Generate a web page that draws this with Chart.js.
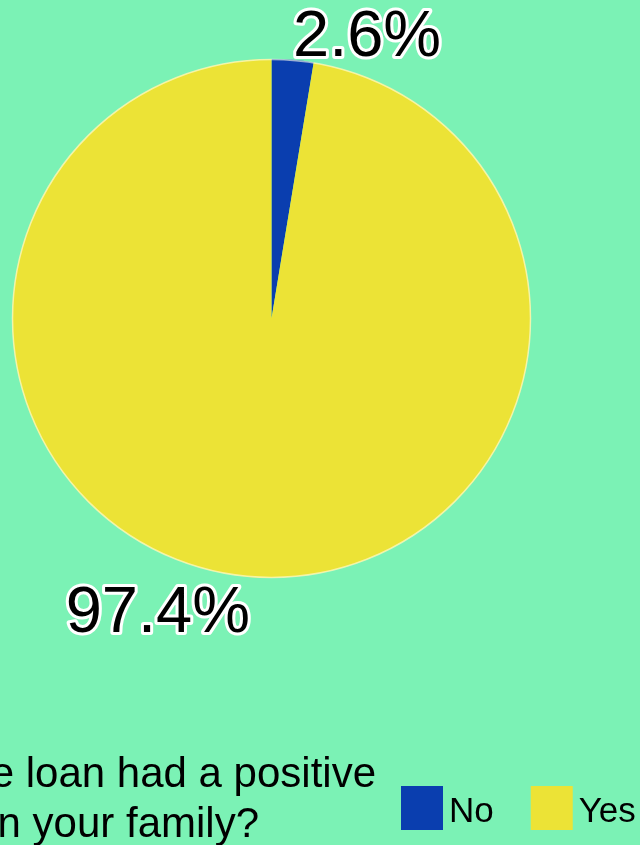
<!DOCTYPE html>
<html>
<head>
<meta charset="utf-8">
<script src="https://cdn.jsdelivr.net/npm/chart.js@4"></script>
<style>
    html, body { margin: 0; padding: 0; background: #7BF2B5; overflow: hidden; }
    canvas { display: block; }
</style>
</head>
<body>
<canvas id="grafico" width="640" height="845"></canvas>
<script>
const categorias = ["No", "Yes"];
const valores = [2.6, 97.4];
const cores = ["#0A3EAF", "#ECE336"];
const pergunta = ["e loan had a positive", "n your family?"];

/* ======================================================
   RÓTULOS DE PERCENTUAL NA BORDA DE CADA FATIA
   ====================================================== */
const rotulosFatias = {
    id: "rotulosFatias",
    afterDatasetsDraw(chart) {
        const ctx = chart.ctx;
        const arcos = chart.getDatasetMeta(0).data;
        ctx.save();

        // contorno claro na borda externa da pizza
        const a0 = arcos[0];
        ctx.beginPath();
        ctx.arc(a0.x, a0.y, a0.outerRadius - 0.5, 0, Math.PI * 2);
        ctx.strokeStyle = "rgba(255,255,235,0.6)";
        ctx.lineWidth = 1.5;
        ctx.stroke();

        ctx.font = "65px 'Liberation Sans', Arial, sans-serif";
        ctx.lineJoin = "round";
        arcos.forEach((arco, i) => {
            const meio = (arco.startAngle + arco.endAngle) / 2;
            const cx = Math.cos(meio), cy = Math.sin(meio);
            const x = arco.x + cx * (arco.outerRadius + 4);
            const y = arco.y + cy * (arco.outerRadius + 4);
            ctx.textAlign = cx >= 0 ? "left" : "right";
            ctx.textBaseline = cy < 0 ? "alphabetic" : "top";
            const texto = valores[i].toFixed(1) + "%";
            ctx.strokeStyle = "#ffffff";
            ctx.lineWidth = 6;
            ctx.strokeText(texto, x, y);
            ctx.fillStyle = "#000000";
            ctx.fillText(texto, x, y);
        });
        ctx.restore();
    }
};

/* ======================================================
   PERGUNTA E LEGENDA NO RODAPÉ
   ====================================================== */
const rodape = {
    id: "rodape",
    afterDraw(chart) {
        const ctx = chart.ctx;
        ctx.save();

        ctx.fillStyle = "#000000";
        ctx.font = "42px 'Liberation Sans', Arial, sans-serif";
        ctx.textAlign = "right";
        ctx.textBaseline = "alphabetic";
        ctx.fillText(pergunta[0], 376, 787);
        ctx.fillText(pergunta[1], 259, 837);

        ctx.font = "35px 'Liberation Sans', Arial, sans-serif";
        ctx.textAlign = "left";
        let x = 401;
        categorias.forEach((nome, i) => {
            ctx.fillStyle = cores[i];
            ctx.fillRect(x, 786, 42, 44);
            ctx.fillStyle = "#000000";
            ctx.fillText(nome, x + 48, 822);
            x += 48 + ctx.measureText(nome).width + 37;
        });

        ctx.restore();
    }
};

new Chart(document.getElementById("grafico"), {
    type: "pie",
    data: {
        labels: categorias,
        datasets: [{
            data: valores,
            backgroundColor: cores,
            borderWidth: 0
        }]
    },
    options: {
        responsive: false,
        animation: false,
        layout: { padding: { left: 12, top: 59, right: 109, bottom: 267 } },
        plugins: {
            legend: { display: false },
            tooltip: { enabled: false }
        }
    },
    plugins: [rotulosFatias, rodape]
});
</script>
</body>
</html>
